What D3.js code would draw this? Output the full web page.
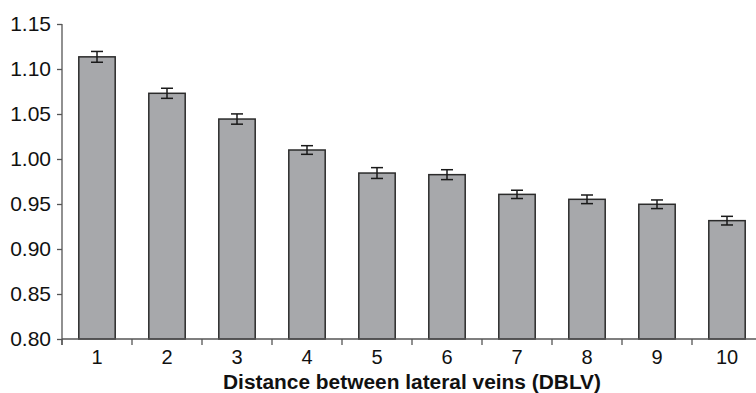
<!DOCTYPE html>
<html>
<head>
<meta charset="utf-8">
<script src="https://cdn.jsdelivr.net/npm/d3@7"></script>
<style>
  html, body { margin: 0; padding: 0; background: #fff; }
  svg { display: block; font-family: "Liberation Sans", Arial, sans-serif; }
</style>
</head>
<body>
<div id="chart"></div>
<script>
const categories = ["1", "2", "3", "4", "5", "6", "7", "8", "9", "10"];
const means = [1.1135, 1.073, 1.0444, 1.0100, 0.9844, 0.9826, 0.9607, 0.9552, 0.9497, 0.9315];
const errors = [0.0060, 0.0056, 0.0057, 0.0048, 0.0060, 0.0055, 0.0046, 0.0048, 0.0048, 0.0048];
const yTicks = [0.80, 0.85, 0.90, 0.95, 1.00, 1.05, 1.10, 1.15];
const xTitle = "Distance between lateral veins (DBLV)";

const width = 756;
const height = 393;
const plot = { left: 62, right: 762, top: 24, bottom: 339 };

const svg = d3.select("#chart").append("svg")
  .attr("width", width)
  .attr("height", height);

const x = d3.scaleBand().domain(categories).range([plot.left, plot.right])
  .paddingInner(0.48).paddingOuter(0.24);
const y = d3.scaleLinear().domain([0.80, 1.15]).range([plot.bottom, plot.top]);

const axisColor = "#555";

// bars
svg.append("g")
  .selectAll("rect")
  .data(means)
  .join("rect")
  .attr("x", (d, i) => x(categories[i]))
  .attr("y", (d) => y(d))
  .attr("width", x.bandwidth())
  .attr("height", (d) => y(0.80) - y(d))
  .attr("fill", "#a7a8ab")
  .attr("stroke", "#2b2b2b")
  .attr("stroke-width", 1.5);

// error bars
const eb = svg.append("g").attr("stroke", "#1a1a1a").attr("stroke-width", 1.5);
means.forEach((m, i) => {
  const cx = x(categories[i]) + x.bandwidth() / 2;
  const hi = y(m + errors[i]);
  const lo = y(m - errors[i]);
  eb.append("line").attr("x1", cx).attr("x2", cx).attr("y1", hi).attr("y2", lo);
  eb.append("line").attr("x1", cx - 6).attr("x2", cx + 6).attr("y1", hi).attr("y2", hi);
  eb.append("line").attr("x1", cx - 6).attr("x2", cx + 6).attr("y1", lo).attr("y2", lo);
});

// y axis
const yAxis = svg.append("g")
  .attr("transform", `translate(${plot.left},0)`)
  .call(d3.axisLeft(y).tickValues(yTicks).tickFormat(d3.format(".2f")).tickSize(5).tickPadding(6));
yAxis.select(".domain").attr("d", `M0,${plot.top}V${plot.bottom + 6}`).attr("stroke", axisColor).attr("stroke-width", 1.3);
yAxis.selectAll(".tick line").attr("stroke", axisColor).attr("stroke-width", 1.3);
yAxis.selectAll(".tick text").attr("fill", "#111").style("font-size", "21px");

// x axis
const step = x.step();
const xAxis = svg.append("g").attr("transform", `translate(0,${plot.bottom})`);
xAxis.append("line").attr("x1", plot.left).attr("x2", plot.right).attr("stroke", axisColor).attr("stroke-width", 1.3);
xAxis.selectAll(".xtick")
  .data(categories)
  .join("line")
  .attr("x1", (c) => x(c) - step * 0.24)
  .attr("x2", (c) => x(c) - step * 0.24)
  .attr("y1", 0).attr("y2", 6)
  .attr("stroke", axisColor).attr("stroke-width", 1.3);
xAxis.selectAll(".xlabel")
  .data(categories)
  .join("text")
  .attr("x", (c) => x(c) + x.bandwidth() / 2)
  .attr("y", 25)
  .attr("text-anchor", "middle")
  .attr("fill", "#111")
  .style("font-size", "20px")
  .text((c) => c);

svg.append("text")
  .attr("x", (plot.left + plot.right) / 2)
  .attr("y", 389)
  .attr("text-anchor", "middle")
  .attr("textLength", 378)
  .attr("lengthAdjust", "spacingAndGlyphs")
  .attr("fill", "#111")
  .style("font-size", "20px")
  .style("font-weight", "bold")
  .text(xTitle);
</script>
</body>
</html>
